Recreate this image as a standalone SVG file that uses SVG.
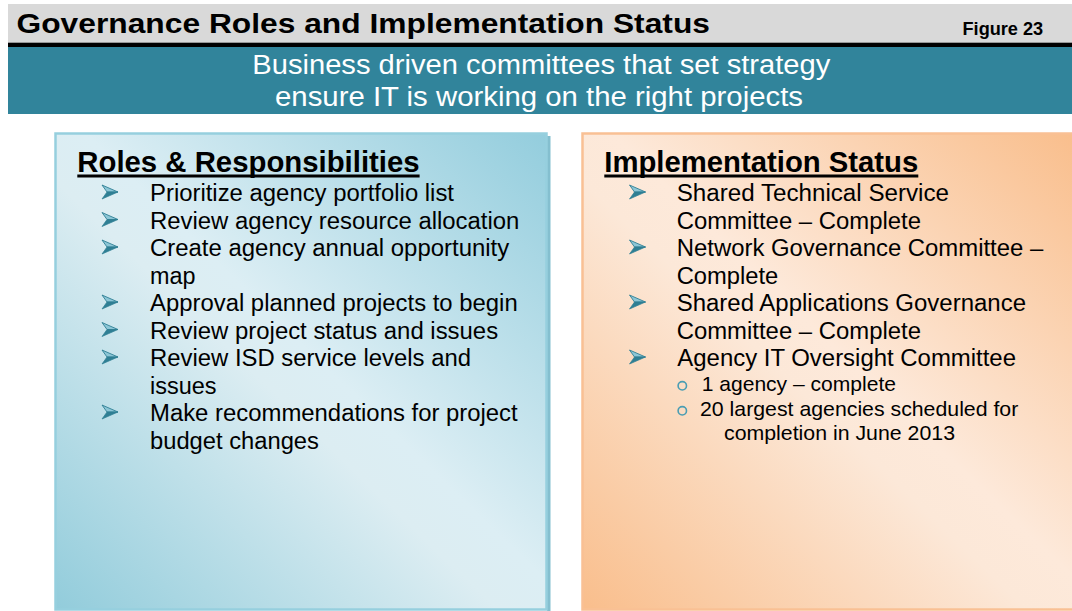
<svg xmlns="http://www.w3.org/2000/svg" xmlns:xlink="http://www.w3.org/1999/xlink" width="1072" height="611" viewBox="0 0 1072 611">
  <defs>
    <style>
      text { font-family: "Liberation Sans", Arial, sans-serif; fill: #000; }
      .title { font-size: 27.5px; font-weight: bold; }
      .fig { font-size: 17.5px; font-weight: bold; }
      .banner { font-size: 27px; fill: #ffffff; }
      .head { font-size: 29px; font-weight: bold; }
      .item { font-size: 23.5px; }
      .sub { font-size: 21px; }
      .uline { fill: #000; }
      .circ { fill: none; stroke: #4a9db3; stroke-width: 1.6; }
    </style>
    <linearGradient id="gBlue" x1="1" y1="0" x2="0" y2="1">
      <stop offset="0" stop-color="#93cddd"/>
      <stop offset="0.47" stop-color="#dceef4"/>
      <stop offset="0.55" stop-color="#dcedf2"/>
      <stop offset="1" stop-color="#92ccdb"/>
    </linearGradient>
    <linearGradient id="gOrange" x1="1" y1="0" x2="0" y2="1">
      <stop offset="0" stop-color="#f9be8c"/>
      <stop offset="0.47" stop-color="#fde9da"/>
      <stop offset="0.55" stop-color="#fce8d8"/>
      <stop offset="1" stop-color="#f9be8c"/>
    </linearGradient>
    <g id="arrow">
      <polygon points="0,0 16,7 5,7" fill="#8cc6d6" stroke="#2f7f94" stroke-width="0.9" stroke-linejoin="round"/>
      <polygon points="5,7 16,7 0,14" fill="#2f7f94" stroke="#2f7f94" stroke-width="0.7" stroke-linejoin="round"/>
    </g>
  </defs>

  <rect x="0" y="0" width="1072" height="611" fill="#ffffff"/>

  <g id="title-bar">
    <rect x="8" y="4" width="1064" height="39" fill="#d9d9d9"/>
    <rect x="8" y="42.7" width="1064" height="4.3" fill="#000000"/>
    <text class="title" x="16.5" y="32.8" textLength="693.5" lengthAdjust="spacingAndGlyphs">Governance Roles and Implementation Status</text>
    <text class="fig" x="962.5" y="35" textLength="80.7" lengthAdjust="spacingAndGlyphs">Figure 23</text>
  </g>

  <g id="banner">
    <rect x="8" y="47" width="1064" height="67" fill="#31849b"/>
    <text class="banner" x="252.3" y="74" textLength="578" lengthAdjust="spacingAndGlyphs">Business driven committees that set strategy</text>
    <text class="banner" x="275" y="106" textLength="528" lengthAdjust="spacingAndGlyphs">ensure IT is working on the right projects</text>
  </g>

  <g id="roles-box">
    <rect x="547" y="136" width="3.5" height="475" fill="#84bfcf"/>
    <rect x="55.5" y="133.5" width="491" height="476" fill="url(#gBlue)" stroke="#96cfde" stroke-width="2.5"/>
    <text class="head" x="77.3" y="171.5" textLength="342.3" lengthAdjust="spacingAndGlyphs">Roles &amp; Responsibilities</text>
    <rect class="uline" x="77.3" y="174.5" width="342.3" height="3"/>
    <use xlink:href="#arrow" x="102" y="185"/>
    <use xlink:href="#arrow" x="102" y="212.5"/>
    <use xlink:href="#arrow" x="102" y="240"/>
    <use xlink:href="#arrow" x="102" y="295"/>
    <use xlink:href="#arrow" x="102" y="322.5"/>
    <use xlink:href="#arrow" x="102" y="350"/>
    <use xlink:href="#arrow" x="102" y="405"/>
    <text class="item" x="150" y="201" textLength="304" lengthAdjust="spacingAndGlyphs">Prioritize agency portfolio list</text>
    <text class="item" x="150" y="228.5" textLength="369.4" lengthAdjust="spacingAndGlyphs">Review agency resource allocation</text>
    <text class="item" x="150" y="256" textLength="359.2" lengthAdjust="spacingAndGlyphs">Create agency annual opportunity</text>
    <text class="item" x="150" y="283.5" textLength="45.5" lengthAdjust="spacingAndGlyphs">map</text>
    <text class="item" x="150" y="311" textLength="367.7" lengthAdjust="spacingAndGlyphs">Approval planned projects to begin</text>
    <text class="item" x="150" y="338.5" textLength="348.1" lengthAdjust="spacingAndGlyphs">Review project status and issues</text>
    <text class="item" x="150" y="366" textLength="321" lengthAdjust="spacingAndGlyphs">Review ISD service levels and</text>
    <text class="item" x="150" y="393.5" textLength="66.5" lengthAdjust="spacingAndGlyphs">issues</text>
    <text class="item" x="150" y="421" textLength="367.7" lengthAdjust="spacingAndGlyphs">Make recommendations for project</text>
    <text class="item" x="150" y="448.5" textLength="168.9" lengthAdjust="spacingAndGlyphs">budget changes</text>
  </g>

  <g id="status-box">
    <rect x="582.5" y="133.5" width="495" height="476" fill="url(#gOrange)" stroke="#f9c094" stroke-width="2.5"/>
    <text class="head" x="604.3" y="171.5" textLength="314" lengthAdjust="spacingAndGlyphs">Implementation Status</text>
    <rect class="uline" x="604.3" y="174.5" width="314" height="3"/>
    <use xlink:href="#arrow" x="629.5" y="185"/>
    <use xlink:href="#arrow" x="629.5" y="240"/>
    <use xlink:href="#arrow" x="629.5" y="295"/>
    <use xlink:href="#arrow" x="629.5" y="350"/>
    <text class="item" x="676.7" y="201" textLength="272.3" lengthAdjust="spacingAndGlyphs">Shared Technical Service</text>
    <text class="item" x="676.7" y="228.5" textLength="244.3" lengthAdjust="spacingAndGlyphs">Committee – Complete</text>
    <text class="item" x="676.7" y="256" textLength="366.6" lengthAdjust="spacingAndGlyphs">Network Governance Committee –</text>
    <text class="item" x="676.7" y="283.5" textLength="101.6" lengthAdjust="spacingAndGlyphs">Complete</text>
    <text class="item" x="676.7" y="311" textLength="349.3" lengthAdjust="spacingAndGlyphs">Shared Applications Governance</text>
    <text class="item" x="676.7" y="338.5" textLength="244.3" lengthAdjust="spacingAndGlyphs">Committee – Complete</text>
    <text class="item" x="677.3" y="366" textLength="338.7" lengthAdjust="spacingAndGlyphs">Agency IT Oversight Committee</text>
    <circle class="circ" cx="682.3" cy="385.8" r="4.2"/>
    <circle class="circ" cx="682.3" cy="410.8" r="4.2"/>
    <text class="sub" x="701.7" y="390.7" textLength="194.3" lengthAdjust="spacingAndGlyphs">1 agency – complete</text>
    <text class="sub" x="700" y="415.7" textLength="318.3" lengthAdjust="spacingAndGlyphs">20 largest agencies scheduled for</text>
    <text class="sub" x="724" y="439.5" textLength="231" lengthAdjust="spacingAndGlyphs">completion in June 2013</text>
  </g>
</svg>
